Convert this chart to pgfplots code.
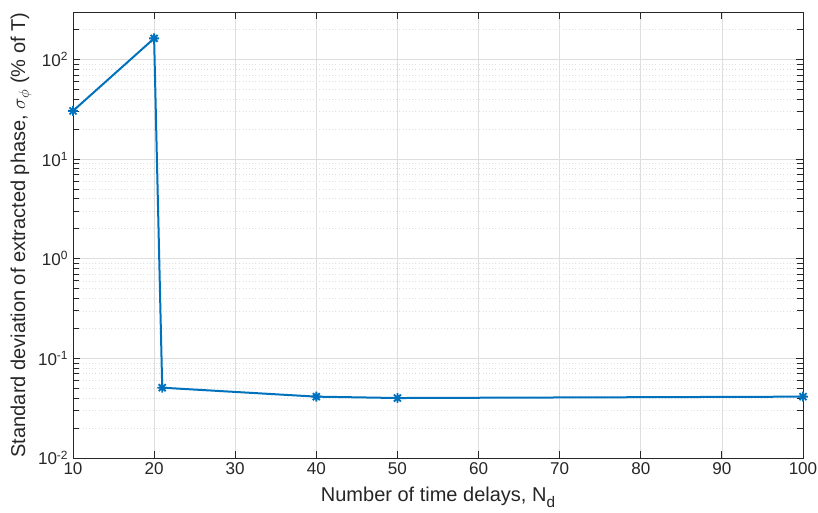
\documentclass[border=0pt]{standalone}
\usepackage{pgfplots}
\pgfplotsset{compat=1.18}
\usepackage{fontspec}
\setmainfont{Liberation Sans}
\usetikzlibrary{calc}

\definecolor{mlblue}{rgb}{0,0.447,0.741}
\definecolor{mlaxis}{rgb}{0.15,0.15,0.15}
\definecolor{mlgrid}{rgb}{0.87,0.87,0.87}

% eight-armed asterisk marker
\pgfdeclareplotmark{ast8}{%
  \pgfpathmoveto{\pgfqpoint{-\pgfplotmarksize}{0pt}}\pgfpathlineto{\pgfqpoint{\pgfplotmarksize}{0pt}}%
  \pgfpathmoveto{\pgfqpoint{0pt}{-\pgfplotmarksize}}\pgfpathlineto{\pgfqpoint{0pt}{\pgfplotmarksize}}%
  \pgfpathmoveto{\pgfqpoint{-0.707\pgfplotmarksize}{-0.707\pgfplotmarksize}}\pgfpathlineto{\pgfqpoint{0.707\pgfplotmarksize}{0.707\pgfplotmarksize}}%
  \pgfpathmoveto{\pgfqpoint{-0.707\pgfplotmarksize}{0.707\pgfplotmarksize}}\pgfpathlineto{\pgfqpoint{0.707\pgfplotmarksize}{-0.707\pgfplotmarksize}}%
  \pgfusepathqstroke}

\begin{document}
\begin{tikzpicture}
\begin{axis}[
  name=ax,
  at={(54.75pt,40.5pt)}, anchor=south west,
  scale only axis,
  width=547.5pt, height=334.5pt,
  ymode=log,
  xmin=10, xmax=100,
  ymin=1e-2, ymax=300,
  xtick={10,20,...,100},
  ytick={1e-2,1e-1,1,10,100},
  minor ytick={2e-2,3e-2,4e-2,5e-2,6e-2,7e-2,8e-2,9e-2,
               2e-1,3e-1,4e-1,5e-1,6e-1,7e-1,8e-1,9e-1,
               2,3,4,5,6,7,8,9,20,30,40,50,60,70,80,90,200,300},
  yticklabel={10\textsuperscript{\pgfmathparse{int(round(\tick/ln(10)))}\pgfmathresult}},
  /pgf/number format/assume math mode=true,
  tick label style={font=\fontsize{12.8}{14}\selectfont, text=mlaxis},
  label style={font=\fontsize{15}{17}\selectfont, text=mlaxis},
  xlabel={Number of time delays, N\raisebox{-0.3em}{\fontsize{11.5}{12}\selectfont d}},
  ylabel={Standard deviation of extracted phase, $\sigma_{\phi}$ (\% of T)},
  xlabel style={yshift=-2.5pt},
  ylabel style={yshift=-2pt},
  axis line style={mlaxis, line width=0.6pt},
  tick style={mlaxis, line width=0.6pt},
  major tick length=5pt, minor tick length=4.5pt,
  tick align=inside,
  xtick pos=both, ytick pos=both,
  grid=both,
  xminorgrids=false,
  major grid style={mlgrid, line width=0.5pt},
  minor grid style={mlgrid, dotted, line width=0.5pt},
]
\addplot[mlblue, line width=1.5pt, mark=ast8, mark size=3.7pt,
         mark options={line width=1.4pt}]
  coordinates {
    (10,30.5)
    (20,163)
    (21,0.0508)
    (40,0.0413)
    (50,0.0400)
    (100,0.0413)
  };
\end{axis}
\pgfresetboundingbox
\path[use as bounding box] (0,0) rectangle (613.5pt,384pt);
\end{tikzpicture}
\end{document}
